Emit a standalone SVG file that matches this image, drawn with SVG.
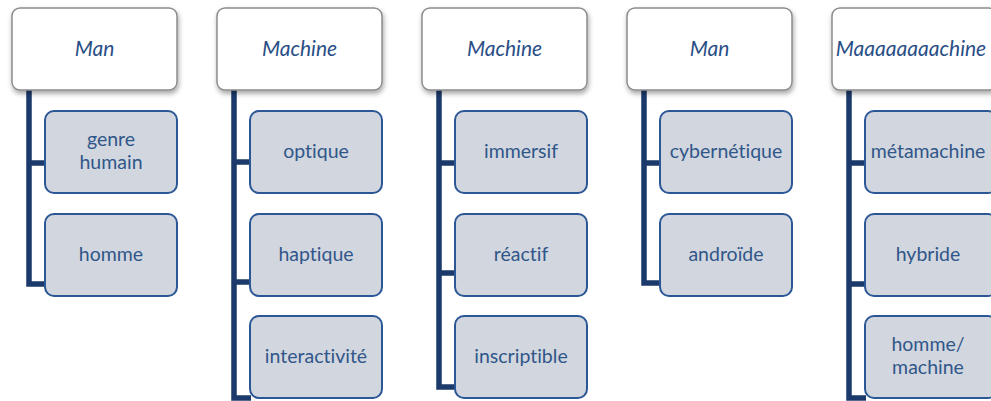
<svg xmlns="http://www.w3.org/2000/svg" width="991" height="401" viewBox="0 0 991 401">
<defs>
<filter id="sh" x="-10%" y="-10%" width="130%" height="140%">
<feDropShadow dx="1" dy="3" stdDeviation="2.5" flood-color="#000" flood-opacity="0.35"/>
</filter>
</defs>
<style>
.hd{fill:#ffffff;stroke:#8c8c8c;stroke-width:1.5}
.ch{fill:#d2d6de;stroke:#2c5797;stroke-width:2}
text{font-variant-ligatures:none;font-feature-settings:"liga" 0}
.ht{font-family:Lato,"Liberation Sans",sans-serif;font-style:italic;font-size:21px;fill:#2a4f86;text-anchor:middle}
.ct{font-family:Lato,"Liberation Sans",sans-serif;font-size:19.5px;fill:#30568a;text-anchor:middle}
.cn{fill:none;stroke:#1b3a6b;stroke-width:5.5;stroke-linejoin:miter}
</style>
<rect width="991" height="401" fill="#ffffff"/>
<g id="connectors">
<path class="cn" d="M29 90 V284 H46 M29 163 H46"/>
<path class="cn" d="M234 90 V398 H251 M234 162 H251 M234 282 H251"/>
<path class="cn" d="M439 90 V387 H456 M439 163 H456 M439 273 H456"/>
<path class="cn" d="M644 90 V283 H661 M644 163 H661"/>
<path class="cn" d="M849 90 V398 H866 M849 163 H866 M849 284 H866"/>
</g>
<g id="col1">
<g id="h1"><rect class="hd" x="12" y="8" width="165" height="82" rx="8" filter="url(#sh)"/><text class="ht" x="94.5" y="56">Man</text></g>
<g id="c1a"><rect class="ch" x="45" y="111" width="132" height="82" rx="9"/><text class="ct" x="111" y="146">genre</text><text class="ct" x="111" y="169">humain</text></g>
<g id="c1b"><rect class="ch" x="45" y="214" width="132" height="82" rx="9"/><text class="ct" x="111" y="261">homme</text></g>
</g>
<g id="col2">
<g id="h2"><rect class="hd" x="217" y="8" width="165" height="82" rx="8" filter="url(#sh)"/><text class="ht" x="299.5" y="56">Machine</text></g>
<g id="c2a"><rect class="ch" x="250" y="111" width="132" height="82" rx="9"/><text class="ct" x="316" y="158">optique</text></g>
<g id="c2b"><rect class="ch" x="250" y="214" width="132" height="82" rx="9"/><text class="ct" x="316" y="261">haptique</text></g>
<g id="c2c"><rect class="ch" x="250" y="316" width="132" height="82" rx="9"/><text class="ct" x="316" y="363">interactivité</text></g>
</g>
<g id="col3">
<g id="h3"><rect class="hd" x="422" y="8" width="165" height="82" rx="8" filter="url(#sh)"/><text class="ht" x="504.5" y="56">Machine</text></g>
<g id="c3a"><rect class="ch" x="455" y="111" width="132" height="82" rx="9"/><text class="ct" x="521" y="158">immersif</text></g>
<g id="c3b"><rect class="ch" x="455" y="214" width="132" height="82" rx="9"/><text class="ct" x="521" y="261">réactif</text></g>
<g id="c3c"><rect class="ch" x="455" y="316" width="132" height="82" rx="9"/><text class="ct" x="521" y="363">inscriptible</text></g>
</g>
<g id="col4">
<g id="h4"><rect class="hd" x="627" y="8" width="165" height="82" rx="8" filter="url(#sh)"/><text class="ht" x="709.5" y="56">Man</text></g>
<g id="c4a"><rect class="ch" x="660" y="111" width="132" height="82" rx="9"/><text class="ct" x="726" y="158">cybernétique</text></g>
<g id="c4b"><rect class="ch" x="660" y="214" width="132" height="82" rx="9"/><text class="ct" x="726" y="261">androïde</text></g>
</g>
<g id="col5">
<g id="h5"><rect class="hd" x="832" y="8" width="165" height="82" rx="8" filter="url(#sh)"/><text class="ht" x="911" y="56">Maaaaaaaachine</text></g>
<g id="c5a"><rect class="ch" x="865" y="111" width="132" height="82" rx="9"/><text class="ct" x="928" y="158">métamachine</text></g>
<g id="c5b"><rect class="ch" x="865" y="214" width="132" height="82" rx="9"/><text class="ct" x="928" y="261">hybride</text></g>
<g id="c5c"><rect class="ch" x="865" y="316" width="132" height="82" rx="9"/><text class="ct" x="928" y="351">homme/</text><text class="ct" x="928" y="374">machine</text></g>
</g>
</svg>
